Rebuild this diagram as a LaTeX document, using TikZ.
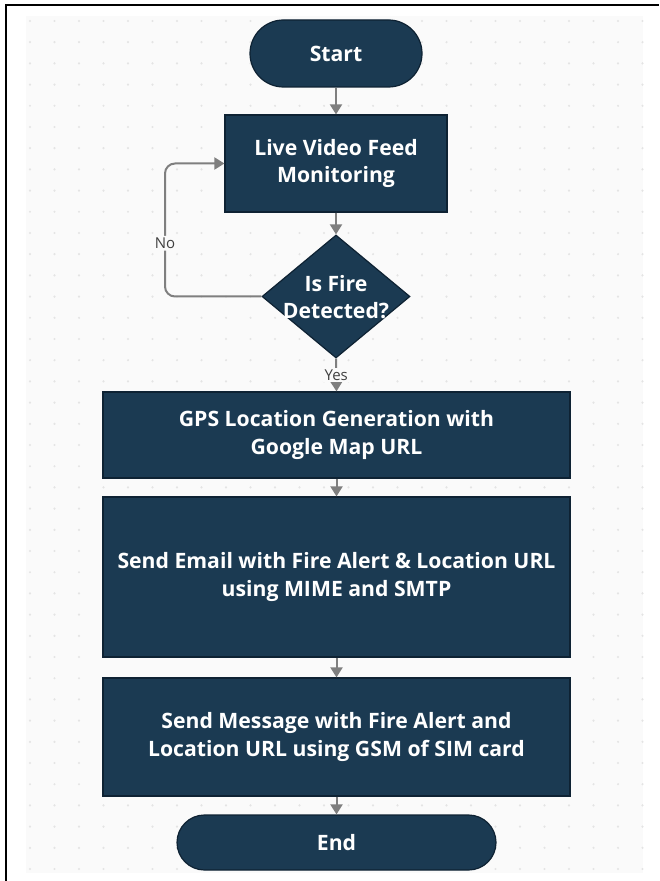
\documentclass[tikz,border=0pt]{standalone}
\usepackage{fontspec}
\setmainfont{Open Sans}
\usepackage{tikz}
\usetikzlibrary{shapes.geometric,arrows.meta}

\definecolor{navy}{HTML}{1B3A52}
\definecolor{navyline}{HTML}{0E2233}
\definecolor{flowgray}{HTML}{7F7F7F}
\definecolor{paper}{HTML}{FAFAFA}
\definecolor{dotgray}{HTML}{E4E4E4}

\tikzset{
  box/.style={draw=navyline, line width=0.6pt, fill=navy, text=white, align=center,
    inner sep=0pt, font=\bfseries\fontsize{10.6}{13.8}\selectfont},
  terminal/.style={box, rounded corners=#1},
  decision/.style={draw=navyline, line width=0.6pt, fill=navy, diamond, inner sep=0pt,
    minimum width=74pt, minimum height=61.5pt},
  flow/.style={draw=flowgray, line width=1pt, -{Triangle[width=6pt,length=5pt]}},
  answer/.style={fill=paper, text=black!75, inner sep=1pt, font=\fontsize{7.5}{9}\selectfont}
}

\begin{document}
\begin{tikzpicture}[x=0.5pt,y=-0.5pt]
\useasboundingbox (0,0) rectangle (659,881);
% dotted canvas
\fill[paper] (26,16) rectangle (643,873);
\foreach \i in {0,...,25}
  \foreach \j in {0,...,40}
    \fill[dotgray] ({30+24.5*\i},{21+21.2*\j}) circle (0.6pt);
\draw[line width=1.2pt] (6,881) -- (6,5) -- (659,5);

% nodes
\node[terminal=16.75pt, minimum width=86pt, minimum height=33.5pt] (start) at (336,53.5) {Start};
\node[box, minimum width=111pt, minimum height=48.5pt] (live) at (336,163.5) {Live Video Feed\\Monitoring};
\node[decision] (fire) at (336,296.5) {};
\node[box, draw=none, fill=none] (firetext) at (336,297) {Is Fire\\Detected?};
\node[box, minimum width=233.5pt, minimum height=43pt] (gps) at (336.5,435) {GPS Location Generation with\\Google Map URL};
\node[box, minimum width=233.5pt, minimum height=80pt] (mail) at (336.5,577) {Send Email with Fire Alert \& Location URL\\using MIME and SMTP};
\node[box, minimum width=233.5pt, minimum height=59pt] (sms) at (336.5,737) {Send Message with Fire Alert and\\Location URL using GSM of SIM card};
\node[terminal=13.75pt, minimum width=159.5pt, minimum height=27.5pt] (end) at (336.5,842.5) {End};

% connectors
\coordinate (noturn) at (165,296.5);
\draw[flow] (start) -- (live);
\draw[flow] (live) -- (fire);
\draw[flow, rounded corners=5pt] (fire.west) -- (noturn) |- node[answer, pos=0.2] {No} (live.west);
\draw[flow] (fire.south) -- node[answer, pos=0.5] {Yes} (gps.north);
\draw[flow] (gps) -- (mail);
\draw[flow] (mail) -- (sms);
\draw[flow] (sms) -- (end);
\end{tikzpicture}
\end{document}
